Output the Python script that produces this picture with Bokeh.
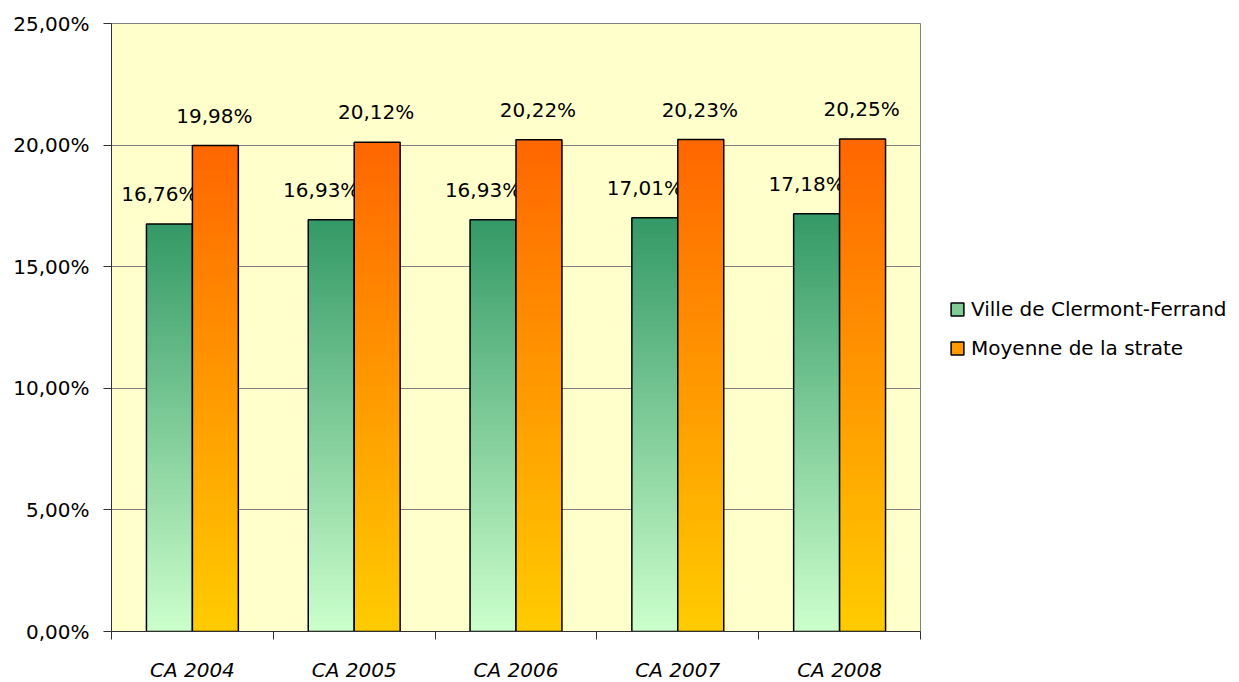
import numpy as np
from bokeh.plotting import figure
from bokeh.models import FixedTicker, Legend, LegendItem, ColumnDataSource
from bokeh.embed import file_html
from bokeh.resources import INLINE

categories = ["CA 2004", "CA 2005", "CA 2006", "CA 2007", "CA 2008"]
ville = [16.76, 16.93, 16.93, 17.01, 17.18]
strate = [19.98, 20.12, 20.22, 20.23, 20.25]
series_names = ["Ville de Clermont-Ferrand", "Moyenne de la strate"]
y_ticks = [0, 5, 10, 15, 20, 25]
y_tick_labels = ["0,00%", "5,00%", "10,00%", "15,00%", "20,00%", "25,00%"]

FONT = "DejaVu Sans"
green_top, green_bot = (51, 153, 102), (204, 255, 204)
orange_top, orange_bot = (255, 102, 0), (255, 204, 0)

p = figure(frame_width=809, frame_height=608, x_range=(0, 5), y_range=(0, 25),
           output_backend="svg", toolbar_location=None,
           min_border_left=111, min_border_top=23, min_border_bottom=45, min_border_right=319)
p.background_fill_color = "#FFFFCC"
p.border_fill_color = "white"
p.outline_line_color = "#808080"
p.outline_line_width = 1

p.xgrid.visible = False
p.ygrid.grid_line_color = "#808080"
p.ygrid.grid_line_width = 1
p.yaxis.ticker = FixedTicker(ticks=y_ticks)
p.yaxis.major_label_overrides = {t: l for t, l in zip(y_ticks, y_tick_labels)}
p.xaxis.ticker = FixedTicker(ticks=[i + 0.5 for i in range(len(categories))],
                             minor_ticks=list(range(len(categories) + 1)))
p.xaxis.major_label_overrides = {i + 0.5: c for i, c in enumerate(categories)}

for ax in (p.xaxis, p.yaxis):
    ax.axis_line_color = "#303030"
    ax.major_tick_line_color = "#303030"
    ax.minor_tick_line_color = "#303030"
    ax.major_label_text_font = FONT
    ax.major_label_text_font_size = "20px"
    ax.major_label_text_color = "black"
p.yaxis.major_tick_out = 8
p.yaxis.major_tick_in = 0
p.yaxis.minor_tick_out = 0
p.yaxis.minor_tick_in = 0
p.yaxis.major_label_standoff = 14
p.xaxis.major_tick_out = 0
p.xaxis.major_tick_in = 0
p.xaxis.minor_tick_out = 8
p.xaxis.minor_tick_in = 0
p.xaxis.major_label_standoff = 18
p.xaxis.major_label_text_font_style = "italic"

W = 0.284
N = 80
def hexcol(a, b, t):
    c = [int(round(a[j] * t + b[j] * (1 - t))) for j in range(3)]
    return "#%02x%02x%02x" % tuple(c)

legend_items = []
for s, (vals, top, bot, dx, lx) in enumerate([(ville, green_top, green_bot, -W / 2, -10),
                                              (strate, orange_top, orange_bot, W / 2, -1)]):
    L, R, B, T, C = [], [], [], [], []
    for i, v in enumerate(vals):
        xc = i + 0.5 + dx
        for k in range(N):
            L.append(xc - W / 2); R.append(xc + W / 2)
            B.append(v * k / N); T.append(min(v, v * (k + 1.15) / N))
            C.append(hexcol(top, bot, (k + 0.5) / N))
    p.quad(left=L, right=R, bottom=B, top=T, fill_color=C, line_color=None)
    xs = [i + 0.5 + dx for i in range(len(vals))]
    p.quad(left=[x - W / 2 for x in xs], right=[x + W / 2 for x in xs], bottom=0, top=vals,
           fill_color=None, line_color="black", line_width=1.5)
    labels = [("%.2f" % v).replace(".", ",") + "%" for v in vals]
    src = ColumnDataSource(dict(x=xs, y=vals, t=labels))
    p.text(x="x", y="y", text="t", source=src, text_align="center", text_baseline="alphabetic",
           x_offset=lx, y_offset=-30, text_font_size="20px", text_font={"value": FONT}, text_color="black")
    mid = hexcol(top, bot, 0.5)
    dummy = p.quad(left=[0], right=[0], bottom=[0], top=[0], fill_color=mid, line_color="black",
                   line_width=1.5)
    legend_items.append(LegendItem(label=series_names[s], renderers=[dummy]))

legend = Legend(items=legend_items, location=(29, 271), orientation="vertical",
                glyph_width=16, glyph_height=16, label_height=20, spacing=15, padding=0, margin=0,
                border_line_color=None, background_fill_alpha=0, label_text_font=FONT,
                label_text_font_size="20px", label_standoff=6, label_text_color="black")
p.add_layout(legend, "right")

open("out.html", "w").write(file_html(p, INLINE))
